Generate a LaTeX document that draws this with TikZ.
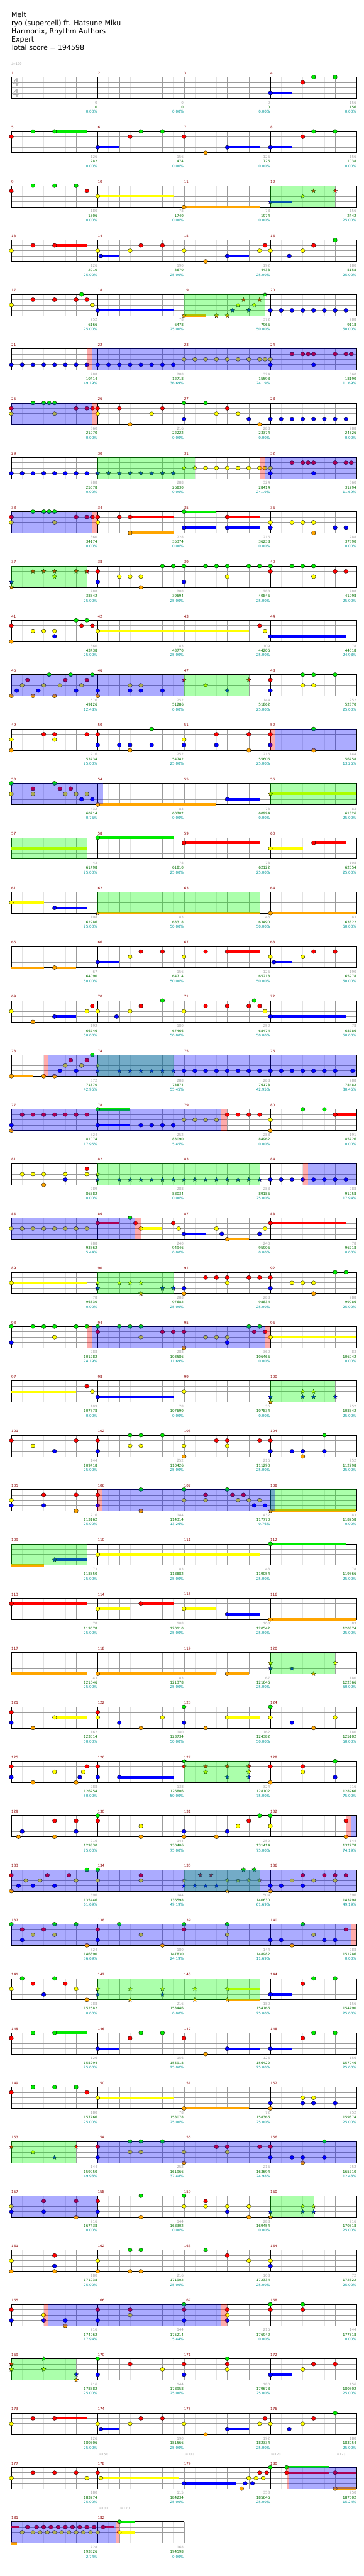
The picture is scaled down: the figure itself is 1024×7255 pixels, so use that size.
\documentclass[tikz,border=0pt]{standalone}
\usepackage{fontspec}
\setmainfont{DejaVu Sans}
\usetikzlibrary{shapes.geometric}

\definecolor{lg}{RGB}{0,235,0}
\definecolor{lr}{RGB}{255,0,0}
\definecolor{ly}{RGB}{255,255,0}
\definecolor{lb}{RGB}{0,0,255}
\definecolor{lo}{RGB}{255,165,0}
\definecolor{barred}{RGB}{139,0,0}
\definecolor{ptgray}{RGB}{165,165,165}
\definecolor{ptgreen}{RGB}{0,110,0}
\definecolor{ptteal}{RGB}{0,150,150}
\definecolor{beatgray}{RGB}{155,155,155}
\definecolor{subgray}{RGB}{226,226,226}
\definecolor{siggray}{RGB}{178,178,178}

\pgfdeclarelayer{grid}
\pgfdeclarelayer{tails}
\pgfdeclarelayer{splayer}
\pgfdeclarelayer{odlayer}
\pgfsetlayers{grid,tails,main,splayer,odlayer}

% lane offsets below the top line of a staff
\def\dyg{0}\def\dyr{15}\def\dyy{30}\def\dyb{45}\def\dyo{60}

\tikzset{
  subline/.style={draw=subgray, line width=0.8pt},
  beatline/.style={draw=beatgray, line width=0.8pt},
  laneline/.style={draw=beatgray, line width=1.3pt},
  barline/.style={draw=black, line width=1pt},
  notehead/.style={draw=black, line width=0.6pt},
  starhead/.style={
    star, star points=5, star point ratio=2.2,
    minimum size=13pt, inner sep=0pt,
    draw=black, line width=0.5pt
  },
  barno/.style={text=barred, font=\fontsize{10}{12}\selectfont, anchor=west, inner sep=0pt},
  tally/.style={font=\fontsize{10}{12}\selectfont, anchor=east, inner sep=0pt},
  title/.style={font=\fontsize{19.5}{23}\selectfont, anchor=base west, inner sep=0pt},
  tempo/.style={text=ptgray, font=\fontsize{9}{11}\selectfont, anchor=west, inner sep=0pt},
  timesig/.style={text=siggray, font=\fontsize{31}{31}\selectfont, inner sep=0pt},
  spfill/.style={fill=green, opacity=0.33},
  odfill/.style={fill=blue, opacity=0.33},
  pkfill/.style={fill=red, opacity=0.33}
}

% x of sixteenth #2 in bar #1, and top of its staff
\newcommand\where[2]{%
  \pgfmathtruncatemacro\rowno{(#1-1)/4}%
  \pgfmathsetmacro\posx{32+(#1-1-4*\rowno)*243.25+(#2)*15.203}%
  \pgfmathsetmacro\rowy{217+153*\rowno}}

\newcommand\staff[2]{%
  \pgfmathsetmacro\rowy{217+153*#1}%
  \pgfmathsetmacro\roww{243.25*#2}%
  \pgfmathtruncatemacro\rown{16*#2}%
  \begin{pgfonlayer}{grid}
    \foreach \s in {2,6,...,\rown} \draw[subline] (32+\s*15.203,\rowy) -- ++(0,60);
    \foreach \s in {4,8,...,\rown} \draw[beatline] (32+\s*15.203,\rowy) -- ++(0,60);
    \foreach \h in {15,30,45} \draw[laneline] (32,\rowy+\h) -- ++(\roww,0);
    \foreach \s in {16,32,...,\rown} \draw[barline] (32+\s*15.203,\rowy) -- ++(0,60);
    \draw[barline] (32,\rowy) rectangle ++(\roww,60);
  \end{pgfonlayer}
  \foreach \k in {1,...,#2} {
    \pgfmathtruncatemacro\mm{4*#1+\k}
    \node[barno] at (32+\k*243.25-243.25,\rowy-11) {\mm};
  }}

\newcommand\nts[3]{%
  \foreach \p in {#3} {
    \where{#1}{\p}
    \filldraw[notehead, fill=l#2] (\posx,\rowy+\csname dy#2\endcsname) ellipse [x radius=6, y radius=5.5];
  }}

\newcommand\sts[3]{%
  \foreach \p in {#3} {
    \where{#1}{\p}
    \node[starhead, fill=l#2] at (\posx,\rowy+\csname dy#2\endcsname) {};
  }}

\newcommand\sus[4]{%
  \where{#1}{#3}\let\posxa\posx
  \where{#1}{#4}%
  \begin{pgfonlayer}{tails}
    \fill[l#2] (\posxa,\rowy+\csname dy#2\endcsname-3.5) rectangle (\posx,\rowy+\csname dy#2\endcsname+3.5);
  \end{pgfonlayer}}

\newcommand\paintzone[5]{%
  \where{#3}{#4}\let\posxa\posx
  \where{#3}{#5}%
  \begin{pgfonlayer}{#1}
    \fill[#2] (\posxa,\rowy) rectangle (\posx,\rowy+60);
  \end{pgfonlayer}}
\newcommand\spzone[3]{\paintzone{splayer}{spfill}{#1}{#2}{#3}}
\newcommand\odzone[3]{\paintzone{odlayer}{odfill}{#1}{#2}{#3}}
\newcommand\pkzone[3]{\paintzone{odlayer}{pkfill}{#1}{#2}{#3}}

\begin{document}
\begin{tikzpicture}[x=1pt, y=-1pt]

\useasboundingbox (0,0) rectangle (1024,7255);

% Heading.
\node[title] (song) at (32,49.5) {Melt};
\node[title] (artist) at (32,72.5) {ryo (supercell) ft. Hatsune Miku};
\node[title] (charter) at (32,95.5) {Harmonix, Rhythm Authors};
\node[title] (level) at (32,118.5) {Expert};
\node[title] (total) at (30,141.5) {Total score = 194598};

\node[tempo] (tempoa) at (32,180) {♩=170};
\node[timesig] (sigtop) at (44.5,233) {4};
\node[timesig] (sigbot) at (44.5,262) {4};

% Staves.
\foreach \r in {0,...,44} {\staff{\r}{4}}
\staff{45}{2}

% Rows 1-5.
\nts{4}{b}{0} \sus{4}{b}{0}{4} \nts{4}{r}{6} \nts{4}{g}{8,12}
\nts{5}{r}{0} \nts{5}{g}{4,8} \sus{5}{g}{8}{14}
\nts{6}{b}{0} \sus{6}{b}{0}{4} \nts{6}{r}{6} \nts{6}{g}{8,12}
\nts{7}{r}{0} \nts{7}{o}{4} \nts{7}{b}{8} \sus{7}{b}{8}{14}
\nts{8}{b}{0} \sus{8}{b}{0}{4} \nts{8}{r}{6} \nts{8}{g}{8,12}
\nts{9}{r}{0,14} \nts{9}{g}{4,8,12}
\nts{10}{y}{0} \sus{10}{y}{0}{14}
\nts{11}{o}{0} \sus{11}{o}{0}{14}
\sts{12}{b}{0} \sus{12}{b}{0}{4} \sts{12}{y}{6} \sts{12}{r}{8,12} \spzone{12}{0}{12}
\nts{13}{y}{0} \nts{13}{r}{4,8} \sus{13}{r}{8}{14}
\nts{14}{y}{0,6} \nts{14}{b}{0.6} \sus{14}{b}{0.6}{4} \nts{14}{r}{8,12}
\nts{15}{y}{0,14} \nts{15}{o}{4} \nts{15}{b}{8} \sus{15}{b}{8}{12} \nts{15}{r}{15}
\nts{16}{y}{0,6} \nts{16}{b}{3.5} \nts{16}{r}{8} \nts{16}{g}{12}
\nts{17}{y}{0,15} \nts{17}{r}{4,8,12,14} \nts{17}{g}{13}
\nts{18}{b}{0} \sus{18}{b}{0}{14}
\sts{19}{o}{0,6,8} \sus{19}{o}{0}{4} \sts{19}{b}{9,12} \sts{19}{y}{10,13} \sts{19}{r}{11,14} \sts{19}{g}{15} \spzone{19}{0}{15}
\nts{20}{b}{0,2,...,14}

% Rows 6-10.
\nts{21}{b}{0,2,...,14} \pkzone{21}{14}{14.85} \odzone{21}{14.85}{64}
\nts{22}{b}{0,2,...,14}
\nts{23}{y}{0,2,...,14} \nts{23}{y}{15}
\nts{24}{y}{0} \nts{24}{b}{0,8} \nts{24}{r}{4,6,7,8,12,14,15}
\nts{25}{r}{0,12,14,15} \nts{25}{y}{0,8} \nts{25}{g}{4,6,7,8} \odzone{25}{0}{14.85} \pkzone{25}{14.85}{16}
\nts{26}{r}{0,4,12} \nts{26}{y}{0,10} \nts{26}{o}{6}
\nts{27}{g}{0,4} \nts{27}{b}{0,12} \nts{27}{y}{6,10} \nts{27}{r}{8} \nts{27}{o}{14}
\nts{28}{b}{0,2,...,14}
\nts{29}{b}{0,2,...,14}
\sts{30}{b}{0,2,...,14} \spzone{30}{0}{18}
\sts{31}{y}{0,2} \nts{31}{y}{4,6,8,10,12,14,15} \pkzone{31}{14}{15} \odzone{31}{15}{32}
\nts{32}{y}{0} \nts{32}{b}{0,8} \nts{32}{r}{4,6,7,8,12,14,15}
\nts{33}{r}{0,12,14,15} \nts{33}{y}{0,8} \nts{33}{g}{4,6,7,8} \odzone{33}{0}{14.85} \pkzone{33}{14.85}{16}
\nts{34}{r}{0,4,6} \nts{34}{y}{0} \sus{34}{r}{6}{14} \nts{34}{o}{6} \sus{34}{o}{6}{14}
\nts{35}{g}{0} \sus{35}{g}{0}{6} \nts{35}{b}{0,8} \sus{35}{b}{0}{6} \nts{35}{r}{8} \sus{35}{r}{8}{14} \sus{35}{b}{8}{14}
\nts{36}{y}{0,4,6,8} \nts{36}{b}{0,12,14} \nts{36}{o}{8}
\sts{37}{b}{0} \sts{37}{o}{0} \sts{37}{r}{4,6,8,12,14} \sts{37}{y}{8} \spzone{37}{0}{14}
\nts{38}{r}{0} \nts{38}{b}{0} \nts{38}{y}{4,6,8} \nts{38}{o}{8} \nts{38}{g}{12,14}
\nts{39}{g}{0,4,6,8,12,14} \nts{39}{b}{0} \nts{39}{y}{8}
\nts{40}{g}{0,4,6,8} \nts{40}{r}{0,12,14} \nts{40}{y}{8}

% Rows 11-15.
\nts{41}{r}{0,13,15} \nts{41}{o}{0} \nts{41}{y}{4,6,8} \nts{41}{b}{8} \nts{41}{g}{12,14}
\nts{42}{y}{0} \sus{42}{y}{0}{28}
\nts{43}{r}{14} \nts{43}{y}{15}
\nts{44}{b}{0} \sus{44}{b}{0}{14}
\nts{45}{o}{0,4,8} \nts{45}{b}{1,5,12} \nts{45}{y}{2,6,9,13} \nts{45}{r}{3,10,14} \nts{45}{g}{7,11,15} \odzone{45}{0}{32}
\nts{46}{b}{0,6,8,12} \nts{46}{o}{0} \nts{46}{y}{6,8}
\sts{47}{r}{0,12} \sts{47}{y}{4} \sts{47}{b}{8} \spzone{47}{0}{12}
\nts{48}{r}{0} \nts{48}{b}{0} \nts{48}{g}{6,8,12} \nts{48}{y}{6,8}
\nts{49}{y}{0,8} \nts{49}{o}{0} \nts{49}{r}{6,8,14}
\nts{50}{r}{0} \nts{50}{b}{0,4,6,10} \nts{50}{o}{6} \nts{50}{g}{10}
\nts{51}{y}{0} \nts{51}{b}{0,6} \nts{51}{r}{6,12} \nts{51}{o}{12}
\nts{52}{r}{0} \nts{52}{b}{0} \nts{52}{g}{8} \nts{52}{o}{8} \pkzone{52}{0}{0.9} \odzone{52}{0.9}{16}
\nts{53}{g}{0,8} \nts{53}{y}{0,4,10,12,14} \nts{53}{r}{4,9,11} \nts{53}{b}{13,15} \odzone{53}{0}{17}
\nts{54}{o}{0} \sus{54}{o}{0}{22}
\nts{55}{b}{8} \sus{55}{b}{8}{14}
\sts{56}{y}{0} \sus{56}{y}{0}{16} \spzone{56}{0}{16}
\sus{57}{y}{0}{14} \spzone{57}{0}{14}
\nts{58}{g}{0} \sus{58}{g}{0}{14}
\nts{59}{r}{0} \sus{59}{r}{0}{14}
\nts{60}{y}{0} \sus{60}{y}{0}{6} \nts{60}{r}{8} \sus{60}{r}{8}{14}

% Rows 16-20.
\nts{61}{y}{0} \sus{61}{y}{0}{6} \nts{61}{b}{8} \sus{61}{b}{8}{14}
\sts{62}{o}{0} \sus{62}{o}{0}{30} \spzone{62}{0}{30}
\nts{64}{o}{0} \sus{64}{o}{0}{16}
\sus{65}{o}{0}{6} \nts{65}{o}{8} \sus{65}{o}{8}{12}
\nts{66}{b}{0} \sus{66}{b}{0}{4} \nts{66}{y}{6} \nts{66}{r}{8,12}
\nts{67}{y}{0} \nts{67}{r}{4,8} \sus{67}{r}{8}{14}
\nts{68}{y}{0,6} \nts{68}{b}{0.67} \sus{68}{b}{0.67}{4} \nts{68}{r}{8,12}
\nts{69}{y}{0,14} \nts{69}{o}{4} \nts{69}{b}{8} \sus{69}{b}{8}{12} \nts{69}{r}{15}
\nts{70}{y}{0,6} \nts{70}{b}{3.5} \nts{70}{r}{8} \nts{70}{g}{12}
\nts{71}{y}{0,15} \nts{71}{r}{4,8,12,14} \nts{71}{g}{13}
\nts{72}{b}{0} \sus{72}{b}{0}{14}
\nts{73}{o}{0,6,8} \sus{73}{o}{0}{4} \nts{73}{b}{9,12} \nts{73}{y}{10,13} \nts{73}{r}{11,14} \nts{73}{g}{15} \pkzone{73}{6}{6.9} \odzone{73}{6.9}{64}
\sts{74}{y}{0} \sts{74}{b}{0,4,6,8,10,12,14} \spzone{74}{0}{14}
\nts{75}{b}{0,2,...,14}
\nts{76}{b}{0,2,...,12} \nts{76}{b}{15.25}
\nts{77}{b}{0} \nts{77}{o}{0} \nts{77}{r}{2,4,...,14} \odzone{77}{0}{38.9} \pkzone{77}{38.9}{40}
\nts{78}{g}{0} \sus{78}{g}{0}{6} \nts{78}{b}{0,8,10,12,14} \sus{78}{b}{0}{6}
\nts{79}{y}{0,2,4,6} \nts{79}{r}{8,10,12,14}
\nts{80}{y}{0} \nts{80}{o}{0} \nts{80}{g}{6,10} \nts{80}{r}{12} \sus{80}{r}{12}{16}

% Rows 21-25.
\nts{81}{y}{2,4,6,10,14} \nts{81}{o}{6} \nts{81}{b}{10} \nts{81}{r}{14}
\sts{82}{y}{0} \sts{82}{b}{0,4,6,8,10,12,14} \spzone{82}{0}{30}
\sts{83}{b}{0,2,...,14}
\nts{84}{b}{0,2,...,14} \pkzone{84}{6}{7} \odzone{84}{7}{16}
\nts{85}{y}{0,2,...,14} \odzone{85}{0}{22.9} \pkzone{85}{22.9}{24}
\nts{86}{r}{0,7,14} \sus{86}{r}{0}{4} \nts{86}{g}{6} \nts{86}{y}{8,15} \sus{86}{y}{8}{12}
\nts{87}{b}{0,7,14} \sus{87}{b}{0}{4} \nts{87}{y}{6,15} \nts{87}{o}{8} \sus{87}{o}{8}{12}
\nts{88}{r}{0} \sus{88}{r}{0}{14}
\nts{89}{y}{0} \sus{89}{y}{0}{14}
\sts{90}{y}{0,4,6,8} \sts{90}{b}{0,12,14} \sts{90}{o}{8} \spzone{90}{0}{14}
\nts{91}{b}{0} \nts{91}{o}{0} \nts{91}{r}{4,6,8,12,14} \nts{91}{y}{8}
\nts{92}{r}{0} \nts{92}{b}{0} \nts{92}{y}{4,6,8} \nts{92}{o}{8} \nts{92}{g}{12,14}
\nts{93}{g}{0,4,6,8,12,14} \nts{93}{b}{0} \nts{93}{y}{8} \pkzone{93}{14}{14.85} \odzone{93}{14.85}{47} \pkzone{93}{47}{48}
\nts{94}{g}{0,4,6,8} \nts{94}{r}{0,12,14} \nts{94}{y}{8}
\nts{95}{r}{0,13,15} \nts{95}{o}{0} \nts{95}{y}{4,6,8} \nts{95}{b}{8} \nts{95}{g}{12,14}
\nts{96}{y}{0} \sus{96}{y}{0}{16}
\sus{97}{y}{0}{12} \nts{97}{r}{14} \nts{97}{y}{15}
\nts{98}{b}{0} \sus{98}{b}{0}{14}
\nts{99}{y}{0}
\sts{100}{b}{0,6,8,12} \sts{100}{o}{0} \sts{100}{y}{6,8} \spzone{100}{0}{12}

% Rows 26-30.
\nts{101}{r}{0,12} \nts{101}{y}{4} \nts{101}{b}{8}
\nts{102}{r}{0} \nts{102}{b}{0} \nts{102}{g}{6,8,12} \nts{102}{y}{6,8}
\nts{103}{y}{0,8} \nts{103}{o}{0} \nts{103}{r}{6,8,14}
\nts{104}{r}{0} \nts{104}{b}{0,4,6,10} \nts{104}{o}{6} \nts{104}{g}{10}
\nts{105}{y}{0} \nts{105}{b}{0,6} \nts{105}{r}{6,12} \nts{105}{o}{12}
\nts{106}{r}{0} \nts{106}{b}{0} \nts{106}{g}{8} \nts{106}{o}{8} \pkzone{106}{0}{0.9} \odzone{106}{0.9}{32.9}
\nts{107}{g}{0,8} \nts{107}{y}{0,4,10,12,14} \nts{107}{r}{4,9,11} \nts{107}{b}{13,15}
\sts{108}{o}{0} \sus{108}{o}{0}{16} \spzone{108}{0}{16}
\sus{109}{o}{0}{6} \sts{109}{b}{8} \sus{109}{b}{8}{14} \spzone{109}{0}{14}
\nts{110}{y}{0} \sus{110}{y}{0}{30}
\nts{112}{g}{0} \sus{112}{g}{0}{14}
\nts{113}{r}{0} \sus{113}{r}{0}{14}
\nts{114}{y}{0} \sus{114}{y}{0}{6} \nts{114}{r}{8} \sus{114}{r}{8}{14}
\nts{115}{y}{0} \sus{115}{y}{0}{6} \nts{115}{b}{8} \sus{115}{b}{8}{14}
\nts{116}{o}{0} \sus{116}{o}{0}{16}
\sus{117}{o}{0}{14}
\nts{118}{o}{0} \sus{118}{o}{0}{22}
\nts{119}{o}{8} \sus{119}{o}{8}{12}
\sts{120}{y}{0,12} \sts{120}{b}{0,4} \sts{120}{o}{8} \spzone{120}{0}{12}

% Rows 31-35.
\nts{121}{r}{0} \nts{121}{b}{0} \nts{121}{o}{4} \nts{121}{y}{8} \sus{121}{y}{8}{14}
\nts{122}{r}{0} \nts{122}{y}{0,12} \nts{122}{b}{4} \nts{122}{o}{8}
\nts{123}{g}{0} \nts{123}{b}{0} \nts{123}{o}{4} \nts{123}{y}{8} \sus{123}{y}{8}{14}
\nts{124}{g}{0} \nts{124}{y}{0,12} \nts{124}{b}{4} \nts{124}{o}{8}
\nts{125}{r}{0,14} \nts{125}{b}{0,12.67} \nts{125}{o}{4,12} \nts{125}{y}{8,13.33}
\nts{126}{r}{0} \nts{126}{b}{0,4} \sus{126}{b}{4}{14}
\sts{127}{g}{0} \sts{127}{r}{0,4,8,12} \sts{127}{y}{4,12} \sts{127}{b}{8,12} \spzone{127}{0}{12}
\nts{128}{r}{0,6} \nts{128}{o}{0} \nts{128}{y}{6} \nts{128}{g}{12} \nts{128}{b}{12}
\nts{129}{o}{1.33,8} \nts{129}{b}{2,12} \nts{129}{r}{8,12}
\nts{130}{g}{0} \nts{130}{r}{0} \nts{130}{y}{8} \nts{130}{o}{8}
\nts{131}{b}{0,8} \nts{131}{o}{0,6} \nts{131}{y}{10} \nts{131}{r}{12} \nts{131}{g}{14}
\nts{132}{g}{0} \nts{132}{y}{0} \nts{132}{r}{14} \nts{132}{o}{14} \pkzone{132}{14}{15} \odzone{132}{15}{16}
\nts{133}{r}{0,6.67,10.67} \nts{133}{o}{0} \nts{133}{b}{1.33,4,8} \nts{133}{y}{2.67,5.33,12} \nts{133}{g}{14} \odzone{133}{0}{64}
\nts{134}{g}{0} \nts{134}{y}{0,8} \nts{134}{r}{8}
\sts{135}{y}{0,8,10,12,14} \sts{135}{b}{0,2,4,6} \sts{135}{r}{3,5} \sts{135}{o}{8} \sts{135}{g}{11,13} \spzone{135}{0}{14}
\nts{136}{b}{0,2,6} \nts{136}{o}{0} \nts{136}{y}{4,8,12} \nts{136}{r}{6,10,12,14}
\nts{137}{g}{0,8,12} \nts{137}{r}{2,6} \nts{137}{b}{2} \nts{137}{y}{4,8} \nts{137}{o}{14} \odzone{137}{0}{63} \pkzone{137}{63}{64}
\nts{138}{r}{0} \nts{138}{b}{0} \nts{138}{g}{4} \nts{138}{y}{8} \nts{138}{o}{12}
\nts{139}{g}{0,8} \nts{139}{r}{0} \nts{139}{y}{8}
\nts{140}{b}{0,2,10,12} \nts{140}{o}{4} \nts{140}{g}{6} \nts{140}{y}{8} \nts{140}{r}{14}

% Rows 36-40.
\nts{141}{y}{0,12} \nts{141}{g}{2,8} \nts{141}{r}{4,10} \nts{141}{b}{6} \nts{141}{o}{14}
\sts{142}{y}{0,6,12} \sts{142}{b}{0,12} \sts{142}{o}{6} \spzone{142}{0}{30}
\sts{143}{y}{2,8} \sts{143}{o}{2,8} \sus{143}{y}{8}{14} \sus{143}{o}{8}{14}
\nts{144}{b}{0} \sus{144}{b}{0}{4} \nts{144}{r}{6} \nts{144}{g}{8,12}
\nts{145}{r}{0} \nts{145}{g}{4,8} \sus{145}{g}{8}{14}
\nts{146}{b}{0} \sus{146}{b}{0}{4} \nts{146}{r}{6} \nts{146}{g}{8,12}
\nts{147}{r}{0} \nts{147}{o}{4} \nts{147}{b}{8} \sus{147}{b}{8}{14}
\nts{148}{b}{0} \sus{148}{b}{0}{4} \nts{148}{r}{6} \nts{148}{g}{8,12}
\nts{149}{r}{0,14} \nts{149}{g}{4,8,12}
\nts{150}{y}{0} \sus{150}{y}{0}{14}
\nts{151}{o}{0} \sus{151}{o}{0}{12}
\nts{152}{b}{0,6,8,12} \nts{152}{o}{0} \nts{152}{y}{6,8}
\sts{153}{r}{0,12} \sts{153}{y}{4} \sts{153}{b}{8} \spzone{153}{0}{12}
\nts{154}{r}{0} \nts{154}{b}{0} \nts{154}{g}{6,8,12} \nts{154}{y}{6,8} \odzone{154}{0}{48}
\nts{155}{y}{0,8} \nts{155}{o}{0} \nts{155}{r}{6,8,14}
\nts{156}{r}{0} \nts{156}{b}{0,4,6,10} \nts{156}{o}{6} \nts{156}{g}{10}
\nts{157}{y}{0} \nts{157}{b}{0,6} \nts{157}{r}{6,12} \nts{157}{o}{12} \odzone{157}{0}{16}
\nts{158}{r}{0} \nts{158}{b}{0} \nts{158}{g}{8} \nts{158}{o}{8}
\nts{159}{g}{0} \nts{159}{y}{0,4,8,12} \nts{159}{r}{4} \nts{159}{b}{8} \nts{159}{o}{12}
\sts{160}{b}{0,6,8} \sts{160}{o}{0} \sts{160}{y}{6,8} \spzone{160}{0}{8}

% Rows 41-46.
\nts{161}{y}{0} \nts{161}{o}{0,8} \nts{161}{r}{8} \nts{161}{b}{8}
\nts{162}{y}{0} \nts{162}{o}{0,6,8} \nts{162}{g}{6,8}
\nts{163}{g}{4} \nts{163}{r}{8} \nts{163}{y}{12}
\nts{164}{y}{0} \nts{164}{b}{0}
\nts{165}{r}{0} \nts{165}{b}{0,6,10} \nts{165}{y}{6} \nts{165}{o}{10} \pkzone{165}{6}{6.9} \odzone{165}{6.9}{38.9} \pkzone{165}{38.9}{40}
\nts{166}{r}{0,6} \nts{166}{b}{0} \nts{166}{y}{6}
\nts{167}{g}{0} \nts{167}{r}{0,8} \nts{167}{b}{0,8} \nts{167}{y}{8}
\nts{168}{g}{0,6} \nts{168}{r}{0,6}
\sts{169}{r}{0} \sts{169}{y}{0,6} \sts{169}{g}{6} \sts{169}{b}{12} \sts{169}{o}{12} \spzone{169}{0}{12}
\nts{170}{g}{0} \nts{170}{b}{0} \nts{170}{r}{6} \nts{170}{y}{12}
\nts{171}{r}{0,8} \nts{171}{b}{0} \nts{171}{g}{8} \nts{171}{y}{8}
\nts{172}{b}{0} \sus{172}{b}{0}{4} \nts{172}{y}{6} \nts{172}{r}{8,12}
\nts{173}{y}{0} \nts{173}{r}{4,8} \sus{173}{r}{8}{14}
\nts{174}{y}{0,6} \nts{174}{b}{0.6} \sus{174}{b}{0.6}{4} \nts{174}{r}{8,12}
\nts{175}{y}{0,14} \nts{175}{o}{4} \nts{175}{b}{8} \sus{175}{b}{8}{12} \nts{175}{r}{15}
\nts{176}{y}{0,6} \nts{176}{b}{3.5} \nts{176}{r}{8} \nts{176}{g}{12}
\nts{177}{y}{0,14} \nts{177}{r}{4,8,12}
\nts{178}{r}{0} \nts{178}{y}{0.6} \sus{178}{y}{0.6}{15}
\nts{179}{b}{0,11.33,12.67} \sus{179}{b}{0}{9.6} \nts{179}{o}{10.67} \nts{179}{y}{12,13.33,14.67} \nts{179}{r}{14,15.33}
\nts{180}{g}{0,3} \sus{180}{g}{3}{11} \nts{180}{r}{3,12} \sus{180}{r}{3}{11} \sus{180}{r}{12}{16} \nts{180}{o}{12} \sus{180}{o}{12}{16} \pkzone{180}{3}{3.5} \odzone{180}{3.5}{16}
\sus{181}{r}{0}{1.5} \sus{181}{o}{0}{1}
\nts{181}{y}{2,4,5.33,6.67,8,9.33,10.67,12,13.33,14.67,16}
\nts{181}{r}{3,4.67,6,7.33,8.67,10,11.33,12.67,14,15.33,17} \sus{181}{r}{17}{19}
\odzone{181}{0}{19.5} \pkzone{181}{19.5}{20}
\nts{182}{g}{4} \sus{182}{g}{4}{7} \nts{182}{y}{4} \sus{182}{y}{4}{7}

\node[tempo] (tempob) at (275.25,6912) {♩=150};
\node[tempo] (tempoc) at (518.5,6912) {♩=133};
\node[tempo] (tempod) at (761.75,6912) {♩=120};
\node[tempo] (tempoe) at (944.2,6912) {♩=123};
\node[tempo] (tempof) at (275.25,7065) {♩=101};
\node[tempo] (tempog) at (336,7065) {♩=120};

% Points per bar, running total, bonus share.
\foreach [count=\m] \va/\vb/\vc in {
  0/0/0.00, 0/0/0.00, 0/0/0.00, 156/156/0.00,
  126/282/0.00, 156/474/0.00, 126/726/0.00, 156/1038/0.00,
  180/1506/0.00, 78/1740/0.00, 78/1974/0.00, 156/2442/25.00,
  126/2910/25.00, 190/3670/25.00, 192/4438/25.00, 180/5158/25.00,
  252/6166/25.00, 78/6478/25.00, 372/7966/50.00, 288/9118/50.00,
  288/10414/49.19, 288/12718/36.69, 324/15598/24.19, 360/18190/11.69,
  360/21070/0.00, 216/22222/0.00, 288/23374/0.00, 288/24526/0.00,
  288/25678/0.00, 288/26830/0.00, 324/28414/24.19, 360/31294/11.69,
  360/34174/0.00, 228/35374/0.00, 216/36238/0.00, 288/37390/0.00,
  288/38542/25.00, 288/39694/25.00, 288/40846/25.00, 288/41998/25.00,
  360/43438/25.00, 83/43770/25.00, 109/44206/25.00, 78/44518/24.98,
  576/49126/12.48, 252/51286/0.00, 144/51862/25.00, 252/52870/25.00,
  216/53734/25.00, 252/54742/25.00, 216/55606/25.00, 144/56758/13.26,
  432/60214/0.76, 83/60702/0.00, 73/60994/0.00, 83/61326/25.00,
  43/61498/25.00, 78/61810/25.00, 78/62122/25.00, 108/62554/25.00,
  108/62986/25.00, 83/63318/50.00, 43/63490/50.00, 83/63822/50.00,
  67/64090/50.00, 156/64714/50.00, 126/65218/50.00, 190/65978/50.00,
  192/66746/50.00, 180/67466/50.00, 252/68474/50.00, 78/68786/50.00,
  372/71570/42.95, 288/73874/55.45, 288/76178/42.95, 288/78482/30.45,
  324/81074/17.95, 252/83090/5.45, 288/84962/0.00, 191/85726/0.00,
  289/86882/0.00, 288/88034/0.00, 288/89186/25.00, 288/91058/17.94,
  288/93362/5.44, 240/94946/0.00, 240/95906/0.00, 78/96218/0.00,
  78/96530/0.00, 288/97682/25.00, 288/98834/25.00, 288/99986/25.00,
  288/101282/24.19, 288/103586/11.69, 360/106466/0.00, 83/106942/0.00,
  109/107378/0.00, 78/107690/0.00, 36/107834/0.00, 252/108842/25.00,
  144/109418/25.00, 252/110426/25.00, 216/111290/25.00, 252/112298/25.00,
  216/113162/25.00, 144/114314/13.26, 432/117770/0.76, 83/118258/0.00,
  73/118550/25.00, 83/118882/25.00, 43/119054/25.00, 78/119366/25.00,
  78/119678/25.00, 108/120110/25.00, 108/120542/25.00, 83/120874/25.00,
  43/121046/25.00, 83/121378/25.00, 67/121646/25.00, 180/122366/50.00,
  162/123014/50.00, 180/123734/50.00, 162/124382/50.00, 180/125102/50.00,
  288/126254/50.00, 138/126806/50.00, 324/128102/75.00, 216/128966/75.00,
  216/129830/75.00, 144/130406/75.00, 252/131414/75.00, 144/132278/74.19,
  396/135446/61.69, 144/136598/49.19, 504/140630/61.69, 396/143798/49.19,
  324/146390/36.69, 180/147830/24.19, 144/148982/11.69, 288/151286/0.00,
  288/152582/0.00, 216/153446/0.00, 180/154166/25.00, 156/154790/25.00,
  126/155294/25.00, 156/155918/25.00, 126/156422/25.00, 156/157046/25.00,
  180/157766/25.00, 78/158078/25.00, 72/158366/25.00, 252/159374/25.00,
  144/159950/49.98, 252/161966/37.48, 216/163694/24.98, 252/165710/12.48,
  216/167438/0.00, 144/168302/0.00, 288/169454/0.00, 216/170318/25.00,
  180/171038/25.00, 216/171902/25.00, 108/172334/25.00, 72/172622/25.00,
  216/174062/17.94, 144/175214/5.44, 216/176942/0.00, 144/177518/0.00,
  216/178382/25.00, 144/178958/25.00, 180/179678/25.00, 156/180302/25.00,
  126/180806/25.00, 190/181566/25.00, 192/182334/25.00, 180/183054/25.00,
  180/183774/25.00, 115/184234/25.00, 353/185646/25.00, 250/187502/15.24,
  728/193326/2.74, 168/194598/0.00} {
  \where{\m}{16}
  \node[tally, text=ptgray] at (\posx-1,\rowy+72) {\va};
  \node[tally, text=ptgreen] at (\posx-1,\rowy+85) {\vb};
  \node[tally, text=ptteal] at (\posx-1,\rowy+98) {\vc\%};
}

\end{tikzpicture}
\end{document}
